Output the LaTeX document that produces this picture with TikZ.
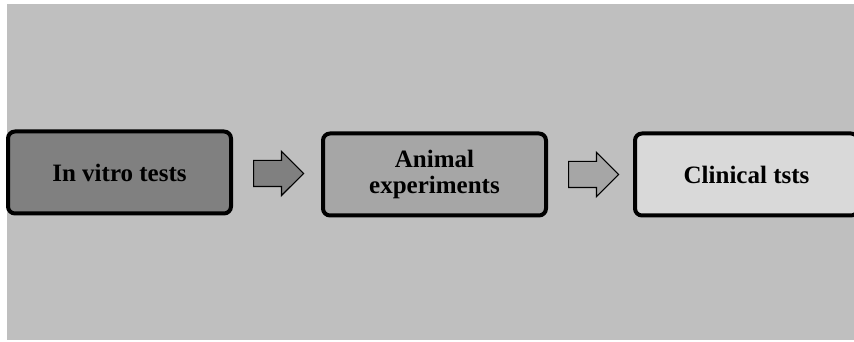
\documentclass[tikz,border=0pt]{standalone}
\usepackage{fontspec}
\usepackage{xcolor}
\setmainfont{Liberation Serif}
\usetikzlibrary{calc,positioning,shapes.arrows}
\definecolor{bggray}{HTML}{BFBFBF}
\definecolor{darkfill}{HTML}{808080}
\definecolor{midfill}{HTML}{A6A6A6}
\definecolor{lightfill}{HTML}{D9D9D9}

\begin{document}
\begin{tikzpicture}[x=1pt,y=1pt]
      \tikzset{
          stage/.style={rectangle, rounded corners=7pt, draw=black, line width=4pt, minimum width=223pt, minimum height=82pt, inner sep=0pt, align=center, font=\fontsize{25}{26}\selectfont\bfseries},
          blockarrow/.style={single arrow, draw=black, line width=1.2pt, minimum height=50pt, inner xsep=0pt, inner ysep=12.5pt, single arrow head extend=9pt, anchor=tail},
      }

      \useasboundingbox (0,0) rectangle (854,342);
      \clip (0,0) rectangle (854,342);
      \fill[bggray] (7,2) rectangle (854,338);

      \node[stage, fill=darkfill] (item1) at (119.5,169.5) {In vitro tests};
      \node[stage, fill=midfill, right=88pt of item1, yshift=-2pt] (item2) {Animal\\experiments};
      \node[stage, fill=lightfill, right=85pt of item2] (item3) {Clinical tsts};

      \node[blockarrow, fill=darkfill] (arrow1) at ($(item1.east)+(20pt,-1pt)$) {};
      \node[blockarrow, fill=midfill] (arrow2) at ($(item2.east)+(20pt,0pt)$) {};

\end{tikzpicture}
\end{document}
